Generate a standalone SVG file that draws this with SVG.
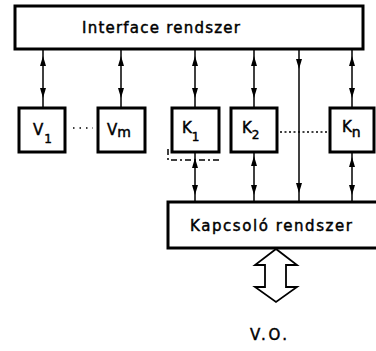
<svg xmlns="http://www.w3.org/2000/svg" width="376" height="351" viewBox="0 0 376 351">
<style>
.box{fill:#fff;stroke:#000;stroke-width:3}
.ln{stroke:#000;stroke-width:1.5;fill:none}
.t{font-family:"DejaVu Sans","Liberation Sans",sans-serif;fill:#000;stroke:#000;stroke-width:0.45}
.lbl{font-size:15px}
.sub{font-size:12px}
</style>
<defs>
<path id="up" d="M0,-5 L-3,5 L3,5 Z" fill="#000"/>
<path id="dn" d="M0,5 L-3,-5 L3,-5 Z" fill="#000"/>
</defs>
<g id="connectors">
<line class="ln" x1="43" y1="50" x2="43" y2="107"/>
<use href="#up" x="43" y="61"/><use href="#dn" x="43" y="93"/>
<line class="ln" x1="121" y1="50" x2="121" y2="107"/>
<use href="#up" x="121" y="61"/><use href="#dn" x="121" y="93"/>
<line class="ln" x1="195" y1="50" x2="195" y2="107"/>
<use href="#up" x="195" y="61"/><use href="#dn" x="195" y="93"/>
<line class="ln" x1="254" y1="50" x2="254" y2="107"/>
<use href="#up" x="254" y="61"/><use href="#dn" x="254" y="93"/>
<line class="ln" x1="352" y1="50" x2="352" y2="107"/>
<use href="#up" x="352" y="61"/><use href="#dn" x="352" y="93"/>
<line class="ln" x1="299" y1="50" x2="299" y2="202"/>
<use href="#dn" x="299" y="64"/><use href="#dn" x="299" y="188"/>
<line class="ln" x1="195" y1="153" x2="195" y2="202"/>
<use href="#up" x="195" y="163"/><use href="#dn" x="195" y="190"/>
<line class="ln" x1="254" y1="153" x2="254" y2="202"/>
<use href="#up" x="254" y="161"/><use href="#dn" x="254" y="190"/>
<line class="ln" x1="352" y1="153" x2="352" y2="202"/>
<use href="#up" x="352" y="162"/><use href="#dn" x="352" y="190"/>
<path d="M168,149 L168,160 L221,160" fill="none" stroke="#000" stroke-width="1.5" stroke-dasharray="6,3,2,3"/>
<path d="M73,128 L93,128" stroke="#000" stroke-width="1.5" stroke-dasharray="1.5,5"/>
<path d="M280,132 L328,132" stroke="#000" stroke-width="1.5" stroke-dasharray="2,2.5"/>
<polygon points="276,249 255,265 265,265 265,287 255,287 276,302 297,287 286,287 286,265 297,265" fill="#fff" stroke="#000" stroke-width="1.8"/>
</g>
<g id="interface">
<rect class="box" x="15" y="6" width="348" height="43"/>
<text class="t lbl" x="82" y="33" textLength="158" lengthAdjust="spacing">Interface rendszer</text>
</g>
<g id="V1">
<rect class="box" x="19" y="108" width="46" height="44"/>
<text class="t" x="33" y="135"><tspan font-size="15">V</tspan><tspan class="sub" dy="8" dx="1">1</tspan></text>
</g>
<g id="Vm">
<rect class="box" x="98" y="108" width="47" height="44"/>
<text class="t" x="107" y="135"><tspan font-size="15">V</tspan><tspan font-size="14" dy="2">m</tspan></text>
</g>
<g id="K1">
<rect class="box" x="172" y="108" width="47" height="44"/>
<text class="t" x="182" y="133"><tspan font-size="15">K</tspan><tspan class="sub" dy="8">1</tspan></text>
</g>
<g id="K2">
<rect class="box" x="231" y="108" width="46" height="44"/>
<text class="t" x="242" y="133"><tspan font-size="15">K</tspan><tspan class="sub" font-size="13" dy="6">2</tspan></text>
</g>
<g id="Kn">
<rect class="box" x="330" y="108" width="44" height="44"/>
<text class="t" x="342" y="132"><tspan font-size="15">K</tspan><tspan font-size="14" dy="5">n</tspan></text>
</g>
<g id="kapcsolo">
<rect class="box" x="168" y="202" width="215" height="46"/>
<text class="t lbl" x="190" y="231" textLength="162" lengthAdjust="spacing">Kapcsoló rendszer</text>
</g>
<g id="vo">
<text class="t lbl" x="250" y="340" textLength="37" lengthAdjust="spacing">V.O.</text>
</g>
</svg>
